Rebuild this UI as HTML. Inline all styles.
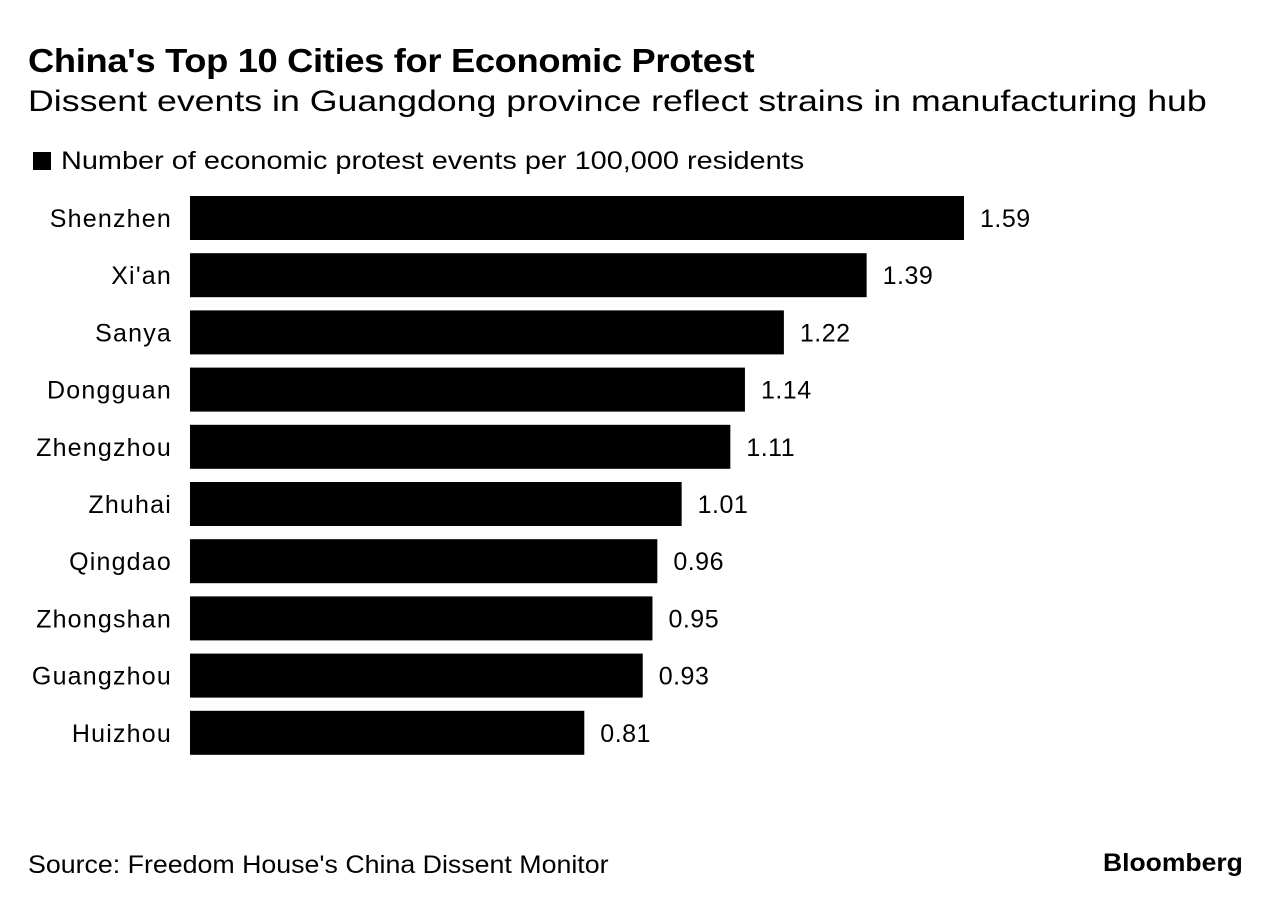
<!DOCTYPE html>
<html><head><meta charset="utf-8"><style>
body{margin:0;width:1281px;height:908px;background:#fff;font-family:"Liberation Sans",sans-serif;color:#000;overflow:hidden;position:relative}
.t{position:absolute;white-space:nowrap;transform-origin:0 0}
</style></head><body>
<div class="t" style="left:28px;top:42px;font-size:33px;font-weight:bold;letter-spacing:-0.3px;transform:scaleX(1.1)">China's Top 10 Cities for Economic Protest</div>
<div class="t" style="left:28px;top:85px;font-size:30px;transform:scaleX(1.19)">Dissent events in Guangdong province reflect strains in manufacturing hub</div>
<div class="t" style="left:33px;top:147px;font-size:25px"><span style="display:inline-block;width:18px;height:18px;background:#000;margin-right:10px;vertical-align:-1px"></span><span style="display:inline-block;transform:scaleX(1.155);transform-origin:0 0">Number of economic protest events per 100,000 residents</span></div>
<svg id="chart" width="1281" height="908" style="position:absolute;left:0;top:0"></svg>
<div class="t" style="left:28px;top:851px;font-size:25px;transform:scaleX(1.07)">Source: Freedom House's China Dissent Monitor</div>
<div class="t" style="left:1103px;top:849px;font-size:25px;font-weight:bold;transform:scaleX(1.06)">Bloomberg</div>
<script>
const categories=["Shenzhen","Xi'an","Sanya","Dongguan","Zhengzhou","Zhuhai","Qingdao","Zhongshan","Guangzhou","Huizhou"];
const values=[1.59,1.39,1.22,1.14,1.11,1.01,0.96,0.95,0.93,0.81];
const valueLabels=["1.59","1.39","1.22","1.14","1.11","1.01","0.96","0.95","0.93","0.81"];
const svg=document.getElementById('chart');
const NS='http://www.w3.org/2000/svg';
const x0=190, scale=774/1.59, y0=196, pitch=57.2, bh=44;
const xs=v=>x0+v*scale;
const ys=i=>y0+i*pitch;
categories.forEach((c,i)=>{
  const r=document.createElementNS(NS,'rect');
  r.setAttribute('x',x0);r.setAttribute('y',ys(i));
  r.setAttribute('width',xs(values[i])-x0);r.setAttribute('height',bh);
  r.setAttribute('fill','#000');
  
  
  svg.appendChild(r);
  const l=document.createElementNS(NS,'text');
  l.setAttribute('x',172);l.setAttribute('y',ys(i)+bh/2+9);
  l.setAttribute('text-anchor','end');l.setAttribute('font-size','25');
  l.setAttribute('letter-spacing','1.2');
  l.setAttribute('font-family','Liberation Sans, sans-serif');
  l.textContent=c;
  
  
  svg.appendChild(l);
  const v=document.createElementNS(NS,'text');
  v.setAttribute('x',xs(values[i])+16);v.setAttribute('y',ys(i)+bh/2+9);
  v.setAttribute('font-size','25');
  v.setAttribute('letter-spacing','0.5');
  v.setAttribute('font-family','Liberation Sans, sans-serif');
  v.textContent=valueLabels[i];
  
  
  svg.appendChild(v);
});
</script>
</body></html>
